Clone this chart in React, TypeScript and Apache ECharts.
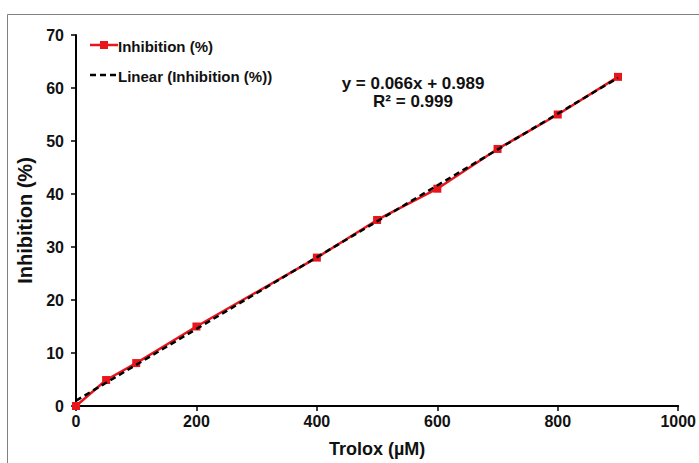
import React, { useEffect, useRef } from "react";
import * as echarts from "echarts";

const troloxUM = [0, 50, 100, 200, 400, 500, 600, 700, 800, 900];
const inhibitionPct = [0, 4.9, 8.1, 15.0, 28.0, 35.1, 41.0, 48.5, 55.0, 62.1];
const xTicks = [0, 200, 400, 600, 800, 1000];
const yTicks = [0, 10, 20, 30, 40, 50, 60, 70];
const equationText = "y = 0.066x + 0.989";
const r2Text = "R\u00B2 = 0.999";
const seriesName = "Inhibition (%)";
const trendName = "Linear (Inhibition (%))";

const FONT = "'Liberation Sans', Arial, sans-serif";
const RED = "#e8161c";

function leastSquares(xs: number[], ys: number[]) {
  const n = xs.length;
  const mx = xs.reduce((a, b) => a + b, 0) / n;
  const my = ys.reduce((a, b) => a + b, 0) / n;
  let sxy = 0;
  let sxx = 0;
  for (let i = 0; i < n; i++) {
    sxy += (xs[i] - mx) * (ys[i] - my);
    sxx += (xs[i] - mx) * (xs[i] - mx);
  }
  const slope = sxy / sxx;
  return { slope, intercept: my - slope * mx };
}

export default function App() {
  const ref = useRef<HTMLDivElement>(null);
  useEffect(() => {
    document.body.style.margin = "0";
    const chart = echarts.init(ref.current!, null, { renderer: "svg" });
    const seriesData = troloxUM.map((x, i) => [x, inhibitionPct[i]]);
    const fit = leastSquares(troloxUM, inhibitionPct);
    const xFirst = troloxUM[0];
    const xLast = troloxUM[troloxUM.length - 1];
    const trendData = [xFirst, xLast].map((x) => [x, fit.slope * x + fit.intercept]);
    const bold = (size: number) => ({
      fontFamily: FONT,
      fontWeight: "bold",
      fontSize: size,
      color: "#111",
    });
    chart.setOption({
      animation: false,
      backgroundColor: "#ffffff",
      textStyle: { fontFamily: FONT },
      grid: { left: 76, right: 18, top: 35, bottom: 55 },
      xAxis: {
        type: "value",
        min: xTicks[0],
        max: xTicks[xTicks.length - 1],
        interval: xTicks[1] - xTicks[0],
        name: "Trolox (\u00B5M)",
        nameLocation: "middle",
        nameGap: 34,
        nameTextStyle: bold(18),
        axisLine: { show: true, lineStyle: { color: "#000", width: 2 } },
        axisTick: { show: true, inside: false, length: 5, lineStyle: { color: "#000", width: 1.5 } },
        axisLabel: { ...bold(16), margin: 7, formatter: (v: number) => String(v) },
        splitLine: { show: false },
      },
      yAxis: {
        type: "value",
        min: yTicks[0],
        max: yTicks[yTicks.length - 1],
        interval: yTicks[1] - yTicks[0],
        name: "Inhibition (%)",
        nameLocation: "middle",
        nameGap: 33,
        nameTextStyle: bold(20),
        axisLine: { show: true, lineStyle: { color: "#000", width: 2 } },
        axisTick: { show: true, inside: false, length: 5, lineStyle: { color: "#000", width: 1.5 } },
        axisLabel: { ...bold(16), margin: 12 },
        splitLine: { show: false },
      },
      series: [
        {
          name: seriesName,
          type: "line",
          data: seriesData,
          symbol: "rect",
          symbolSize: 8,
          itemStyle: { color: RED },
          lineStyle: { color: RED, width: 2.5 },
          z: 2,
        },
        {
          name: trendName,
          type: "line",
          data: trendData,
          symbol: "none",
          itemStyle: { color: "#000" },
          lineStyle: { color: "#000", width: 2.5, type: [6, 4] },
          z: 3,
        },
      ],
      graphic: [
        {
          type: "rect",
          shape: { x: 7.5, y: 14.5, width: 720, height: 500 },
          style: { fill: "none", stroke: "#808080", lineWidth: 1 },
          silent: true,
          z: 0,
        },
        // legend row 1
        {
          type: "line",
          shape: { x1: 90, y1: 45, x2: 118, y2: 45 },
          style: { stroke: RED, lineWidth: 2.5 },
        },
        {
          type: "rect",
          shape: { x: 100, y: 41, width: 8, height: 8 },
          style: { fill: RED },
        },
        {
          type: "text",
          x: 118,
          y: 46,
          style: { text: seriesName, fontFamily: FONT, fontWeight: "bold", fontSize: 15, fill: "#111", verticalAlign: "middle" },
        },
        // legend row 2
        {
          type: "line",
          shape: { x1: 90, y1: 75, x2: 118, y2: 75 },
          style: { stroke: "#000", lineWidth: 2.5, lineDash: [6, 4] },
        },
        {
          type: "text",
          x: 118,
          y: 76,
          style: { text: trendName, fontFamily: FONT, fontWeight: "bold", fontSize: 15, fill: "#111", verticalAlign: "middle" },
        },
        {
          type: "text",
          x: 413,
          y: 83,
          style: {
            text: equationText,
            fontFamily: FONT,
            fontWeight: "bold",
            fontSize: 17,
            fill: "#111",
            align: "center",
            verticalAlign: "middle",
          },
        },
        {
          type: "text",
          x: 413,
          y: 101,
          style: {
            text: r2Text,
            fontFamily: FONT,
            fontWeight: "bold",
            fontSize: 17,
            fill: "#111",
            align: "center",
            verticalAlign: "middle",
          },
        },
      ],
    });
    return () => chart.dispose();
  }, []);
  return <div ref={ref} style={{ width: 699, height: 463 }} />;
}
